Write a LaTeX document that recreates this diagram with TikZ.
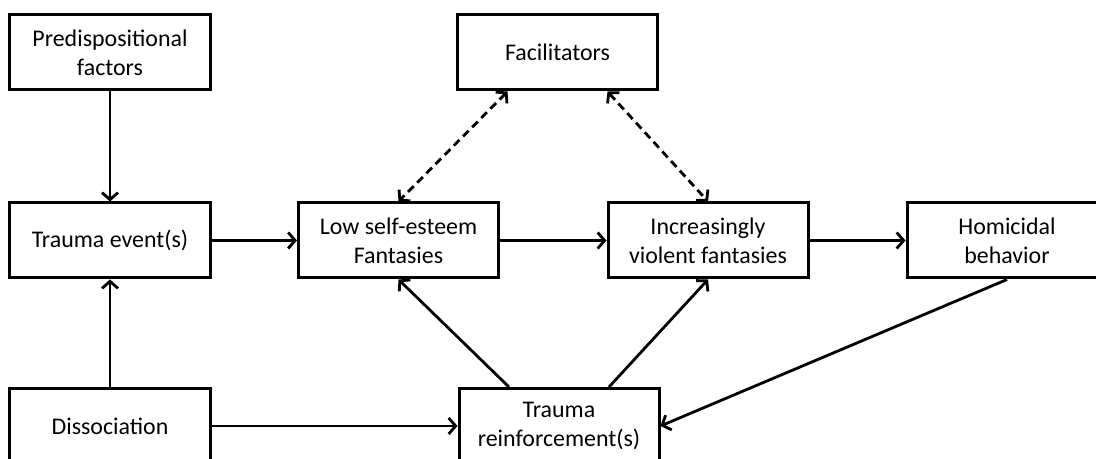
\documentclass[tikz,border=0pt]{standalone}
\usepackage{fontspec}
\setmainfont{Carlito}
\usetikzlibrary{arrows.meta}
\begin{document}
\begin{tikzpicture}[x=1bp,y=-1bp,
  box/.style={draw, line width=3bp, minimum width=200bp, minimum height=75bp,
    inner sep=0pt, align=center, font=\fontsize{24}{29}\selectfont},
  arr/.style={line width=2.8bp, -{Straight Barb[length=7bp,width=16bp]}},
  darr/.style={line width=2.8bp, dash pattern=on 8bp off 5bp,
    {Straight Barb[length=7bp,width=16bp]}-{Straight Barb[length=7bp,width=16bp]}}]
\useasboundingbox (0,0) rectangle (1096,459);
\clip (0,0) rectangle (1096,459);
\node[box] (pre) at (110,52.5) {Predispositional\\factors};
\node[box] (fac) at (557.5,52.5) {Facilitators};
\node[box] (te) at (110,240.5) {Trauma event(s)};
\node[box] (low) at (398.5,240.5) {Low self-esteem\\Fantasies};
\node[box] (inc) at (708,240.5) {Increasingly\\violent fantasies};
\node[box] (hom) at (1007,240.5) {Homicidal\\behavior};
\node[box] (dis) at (110,426) {Dissociation};
\node[box] (tr) at (559,426) {Trauma\\reinforcement(s)};
\draw[arr] (pre) -- (te);
\draw[arr] (dis) -- (te);
\draw[arr] (te) -- (low);
\draw[arr] (low) -- (inc);
\draw[arr] (inc) -- (hom);
\draw[arr] (dis.east) -- (tr.west);
\draw[arr] ([xshift=-50bp]tr.north) -- (low.south);
\draw[arr] ([xshift=50bp]tr.north) -- (inc.south);
\draw[arr] (hom.south) -- (tr.east);
\draw[darr] ([xshift=-50bp]fac.south) -- (low.north);
\draw[darr] ([xshift=50bp]fac.south) -- (inc.north);
\end{tikzpicture}
\end{document}
